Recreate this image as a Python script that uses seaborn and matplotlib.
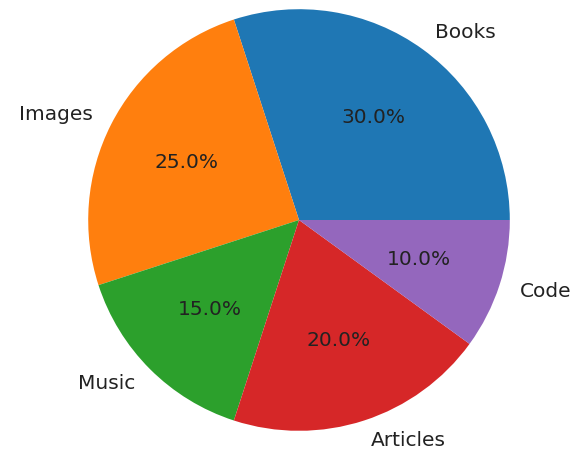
import matplotlib
matplotlib.use("Agg")
import matplotlib.pyplot as plt
import seaborn as sns

# Share of content by type
categories = ["Books", "Images", "Music", "Articles", "Code"]
shares = [30, 25, 15, 20, 10]

sns.set_style("white")
plt.rcParams["font.family"] = ["DejaVu Sans"]
colors = sns.color_palette("tab10", len(categories))

fig = plt.figure(figsize=(5.74, 4.55), dpi=100)
# square axes box (pixels): pie radius ~211px centered near (299, 220)
w = 527 / 574
h = 527 / 455
cx = 299 / 574
cy = 1 - 220 / 455
ax = fig.add_axes([cx - w / 2, cy - h / 2, w, h])
ax.pie(shares, labels=categories, colors=colors, autopct="%1.1f%%",
       startangle=0, wedgeprops={"linewidth": 0},
       textprops={"fontsize": 14.5, "color": "#222222"})
ax.set_aspect("equal")
fig.savefig("out.png", dpi=100)
